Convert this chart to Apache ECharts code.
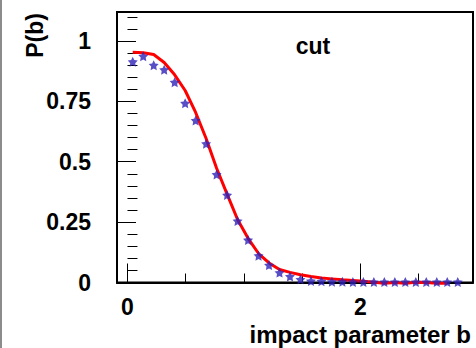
<!DOCTYPE html>
<html>
<head>
<meta charset="utf-8">
<script src="https://cdn.jsdelivr.net/npm/echarts@6/dist/echarts.min.js"></script>
<style>
  html, body { margin: 0; padding: 0; background: #fff; }
  #chart { width: 476px; height: 348px; }
</style>
</head>
<body>
<div id="chart"></div>
<script>
// Bin centres in impact parameter b (shared by the measured points and the fit curve)
const binCenters = [0.045, 0.135, 0.225, 0.315, 0.405, 0.495, 0.585, 0.675, 0.765, 0.855,
                    0.945, 1.035, 1.125, 1.215, 1.305, 1.395, 1.485, 1.575, 1.665, 1.755,
                    1.845, 1.935, 2.025, 2.115, 2.205, 2.295, 2.385, 2.475, 2.565, 2.655,
                    2.745, 2.835];
// Measured P(b) (blue stars)
const starValues = [0.914, 0.937, 0.900, 0.881, 0.829, 0.742, 0.671, 0.575, 0.447, 0.362,
                    0.255, 0.176, 0.111, 0.072, 0.041, 0.025, 0.013, 0.006, 0.005, 0.003,
                    0.003, 0.002, 0.002, 0.002, 0.002, 0.002, 0.002, 0.002, 0.002, 0.002,
                    0.002, 0.002];
// Cut-based P(b) curve (red line), last bin not filled
const curveValues = [0.953, 0.951, 0.944, 0.911, 0.860, 0.795, 0.704, 0.596, 0.473, 0.366,
                     0.261, 0.183, 0.120, 0.081, 0.054, 0.042, 0.032, 0.025, 0.019, 0.015,
                     0.011, 0.008, 0.005, 0.001, -0.003, 0.000, -0.003, 0.001, 0.000, -0.003,
                     -0.003];
// Axis ticks
const yTickLabels = [0, 0.25, 0.5, 0.75, 1];
const yMinorTicks = [0.05, 0.1, 0.15, 0.2, 0.3, 0.35, 0.4, 0.45, 0.55, 0.6, 0.65, 0.7,
                     0.8, 0.85, 0.9, 0.95, 1.05, 1.1];
const xTickLabels = [0, 2];
const xMinorTicks = [0.5, 1, 1.5, 2.5];

const FONT = '"Liberation Sans", Arial, Helvetica, sans-serif';
// five-pointed star marker
const STAR = 'path://M50,0 L64.69,29.77 L97.55,34.55 L73.78,57.73 L79.39,90.45 L50,75 ' +
             'L20.61,90.45 L26.22,57.73 L2.45,34.55 L35.31,29.77 Z';

const starData = binCenters.map((b, i) => [b, starValues[i]]);
const curveData = curveValues.map((v, i) => [binCenters[i], v]);

const labelStyle = { fontSize: 23, fontWeight: 'bold', color: '#000', fontFamily: FONT };

const chart = echarts.init(document.getElementById('chart'), null, { renderer: 'svg' });
chart.setOption({
  animation: false,
  backgroundColor: '#fff',
  grid: {
    left: 117, top: 12, width: 356, height: 270.5,
    show: true, borderColor: '#000', borderWidth: 2, backgroundColor: 'transparent'
  },
  xAxis: [
    {
      type: 'value', min: -0.09, max: 2.966,
      axisLine: { show: true, onZero: false, lineStyle: { color: '#000', width: 2 } },
      axisTick: { show: true, inside: true, length: 19, customValues: xTickLabels,
                  lineStyle: { color: '#000', width: 1 } },
      axisLabel: Object.assign({ customValues: xTickLabels, margin: 13 }, labelStyle),
      splitLine: { show: false }
    },
    {
      type: 'value', min: -0.09, max: 2.966, position: 'bottom',
      axisLine: { show: false },
      axisTick: { show: true, inside: true, length: 9, customValues: xMinorTicks,
                  lineStyle: { color: '#000', width: 1 } },
      axisLabel: { show: false },
      splitLine: { show: false }
    }
  ],
  yAxis: [
    {
      type: 'value', min: 0, max: 1.12,
      axisLine: { show: true, onZero: false, lineStyle: { color: '#000', width: 2 } },
      axisTick: { show: true, inside: true, length: 19, customValues: yTickLabels,
                  lineStyle: { color: '#000', width: 1 } },
      axisLabel: Object.assign({ customValues: yTickLabels, margin: 26 }, labelStyle),
      splitLine: { show: false }
    },
    {
      type: 'value', min: 0, max: 1.12, position: 'left',
      axisLine: { show: false },
      axisTick: { show: true, inside: true, length: 10, customValues: yMinorTicks,
                  lineStyle: { color: '#000', width: 1 } },
      axisLabel: { show: false },
      splitLine: { show: false }
    }
  ],
  series: [
    {
      type: 'line', data: curveData, xAxisIndex: 0, yAxisIndex: 0,
      showSymbol: false, smooth: false, clip: false, z: 2,
      lineStyle: { color: '#ff0000', width: 3 }
    },
    {
      type: 'scatter', data: starData, xAxisIndex: 0, yAxisIndex: 0,
      symbol: STAR, symbolSize: 10, z: 3,
      itemStyle: { color: '#2e22b8' }
    }
  ],
  graphic: [
    { type: 'rect', left: 0, top: 0, shape: { width: 2, height: 348 },
      style: { fill: '#8c8c8c' }, silent: true },
    { type: 'text', x: 35, y: 35.5, rotation: Math.PI / 2,
      style: { text: 'P(b)', font: 'bold 23px ' + FONT, fill: '#000',
               textAlign: 'center', textVerticalAlign: 'middle' } },
    { type: 'text', x: 313, y: 45.5,
      style: { text: 'cut', font: 'bold 23px ' + FONT, fill: '#000',
               textAlign: 'center', textVerticalAlign: 'middle' } },
    { type: 'text', x: 471, y: 334.3,
      style: { text: 'impact parameter b', font: 'bold 24px ' + FONT, fill: '#000',
               textAlign: 'right', textVerticalAlign: 'middle' } }
  ]
});
</script>
</body>
</html>
